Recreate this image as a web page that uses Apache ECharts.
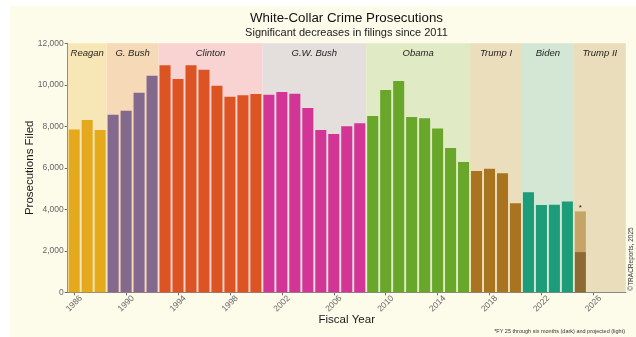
<!DOCTYPE html>
<html>
<head>
<meta charset="utf-8">
<script src="https://cdn.jsdelivr.net/npm/echarts@6/dist/echarts.min.js"></script>
<style>
  html, body { margin: 0; padding: 0; background: #ffffff; }
  #chart { width: 636px; height: 337px; }
</style>
</head>
<body>
<div id="chart"></div>
<script>
// Fiscal years on the category axis (2026-2028 are empty, inside the Trump II band)
const years = ['1986','1987','1988','1989','1990','1991','1992','1993','1994','1995',
  '1996','1997','1998','1999','2000','2001','2002','2003','2004','2005',
  '2006','2007','2008','2009','2010','2011','2012','2013','2014','2015',
  '2016','2017','2018','2019','2020','2021','2022','2023','2024','2025',
  '2026','2027','2028'];

// White-collar prosecutions filed, FY 1986-2024
const filed = [7850, 8300, 7820, 8560, 8750, 9620, 10440, 10940, 10280, 10940,
  10720, 9960, 9430, 9500, 9560, 9520, 9650, 9570, 8880, 7820,
  7630, 8000, 8150, 8500, 9750, 10180, 8450, 8390, 7890, 6950,
  6280, 5850, 5960, 5740, 4290, 4820, 4210, 4220, 4370];

// FY 2025: six months actual, and the full-year projection
const fy25Actual = 1940;
const fy25Projected = 3900;

// Administrations and the fiscal years they cover
const adminNames = ['Reagan', 'G. Bush', 'Clinton', 'G.W. Bush', 'Obama', 'Trump I', 'Biden', 'Trump II'];
const adminStart = [1986, 1989, 1993, 2001, 2009, 2017, 2021, 2025];
const adminEnd   = [1988, 1992, 2000, 2008, 2016, 2020, 2024, 2028];

// Tick labels on the value axis
const yTicks = [0, 2000, 4000, 6000, 8000, 10000, 12000];

// Styling per administration
const barColors   = ['#E4A91C', '#84698F', '#DC5424', '#D23595', '#68A72A', '#A9741F', '#1C9C78', '#8C6A33'];
const shadeColors = ['#F7E7B6', '#F6D9B6', '#F8D3D2', '#E4DFDC', '#E0EBC5', '#EBDEBC', '#D3E7D4', '#EADDBB'];
const fy25LightColor = '#C6A468';

function adminIndex(year) {
  for (let i = 0; i < adminStart.length; i++) {
    if (year >= adminStart[i] && year <= adminEnd[i]) return i;
  }
  return 0;
}

const mainData = years.map((y, i) => {
  const yr = Number(y);
  let v = null;
  if (i < filed.length) v = filed[i];
  else if (yr === 2025) v = fy25Actual;
  if (v === null) return null;
  return { value: v, itemStyle: { color: barColors[adminIndex(yr)] } };
});

const projectedData = years.map(y => (Number(y) === 2025 ? fy25Projected - fy25Actual : null));

const areas = adminNames.map((name, i) => [
  { name: name, xAxis: adminStart[i] - 0.5, itemStyle: { color: shadeColors[i] } },
  { xAxis: adminEnd[i] + 0.5 }
]);

const chart = echarts.init(document.getElementById('chart'), null, { renderer: 'canvas' });
const FONT = 'Liberation Sans, Arial, sans-serif';

chart.setOption({
  animation: false,
  backgroundColor: '#FDFBEA',
  textStyle: { fontFamily: FONT },
  grid: {
    left: 67.7, right: 10.2, top: 43.3, bottom: 44.7,
    containLabel: false, outerBoundsMode: 'none'
  },
  xAxis: [
    {
      type: 'category',
      data: years,
      boundaryGap: true,
      name: 'Fiscal Year',
      nameLocation: 'middle',
      nameGap: 22,
      nameMoveOverlap: false,
      nameTextStyle: { fontSize: 11.5, color: '#1a1a1a', fontFamily: FONT },
      axisLine: { show: true, lineStyle: { color: '#6b6b6b', width: 1 } },
      axisTick: { show: true, alignWithLabel: true, interval: 3, length: 3, lineStyle: { color: '#6b6b6b' } },
      axisLabel: {
        interval: 3, rotate: 45, fontSize: 8.5, color: '#666666', margin: 5,
        verticalAlign: 'top', padding: [0, -5, 0, 0], fontFamily: FONT
      },
      splitLine: { show: false }
    },
    {
      type: 'value',
      min: 1985.5,
      max: 2028.5,
      show: false,
      position: 'top'
    }
  ],
  yAxis: {
    type: 'value',
    min: 0,
    max: 12000,
    interval: 2000,
    name: 'Prosecutions Filed',
    nameLocation: 'middle',
    nameGap: 32,
    nameMoveOverlap: false,
    nameTextStyle: { fontSize: 11.5, color: '#1a1a1a', fontFamily: FONT },
    axisLine: { show: true, lineStyle: { color: '#6b6b6b', width: 1 } },
    axisTick: { show: true, length: 3, lineStyle: { color: '#6b6b6b' } },
    axisLabel: {
      fontSize: 8.5, color: '#666666', margin: 4, fontFamily: FONT,
      formatter: v => (yTicks.indexOf(v) >= 0 ? v.toLocaleString('en-US') : '')
    },
    splitLine: { show: false }
  },
  series: [
    {
      // administration bands behind the bars
      type: 'line',
      xAxisIndex: 1,
      data: [],
      z: 0,
      silent: true,
      markArea: {
        silent: true,
        label: {
          show: true,
          position: 'insideTop',
          distance: 5,
          fontStyle: 'italic',
          fontSize: 9.5,
          color: '#1f1f1f',
          fontFamily: FONT
        },
        data: areas
      }
    },
    {
      type: 'bar',
      stack: 'fy',
      data: mainData,
      barCategoryGap: '15%',
      z: 3
    },
    {
      type: 'bar',
      stack: 'fy',
      data: projectedData,
      itemStyle: { color: fy25LightColor },
      label: {
        show: true,
        position: 'top',
        distance: 0,
        formatter: '*',
        fontSize: 8,
        color: '#222222'
      },
      z: 3
    }
  ],
  graphic: [
    { type: 'rect', left: 0, top: 0, shape: { width: 636, height: 6 }, style: { fill: '#ffffff' }, silent: true, z: 10 },
    { type: 'rect', left: 0, top: 0, shape: { width: 10, height: 337 }, style: { fill: '#ffffff' }, silent: true, z: 10 },
    {
      type: 'text', x: 346.5, y: 18.5,
      style: { text: 'White-Collar Crime Prosecutions', fontSize: 13.3, fill: '#111111', fontFamily: FONT, align: 'center', verticalAlign: 'middle' }
    },
    {
      type: 'text', x: 346.5, y: 33,
      style: { text: 'Significant decreases in filings since 2011', fontSize: 11, fill: '#1a1a1a', fontFamily: FONT, align: 'center', verticalAlign: 'middle' }
    },
    {
      type: 'text', x: 625, y: 331,
      style: { text: '*FY 25 through six months (dark) and projected (light)', fontSize: 5.5, fill: '#333333', fontFamily: FONT, align: 'right', verticalAlign: 'middle' }
    },
    {
      type: 'text', x: 631.5, y: 259, rotation: Math.PI / 2,
      style: { text: '\u00A9TRACReports, 2025', fontSize: 6.5, fill: '#333333', fontFamily: FONT, align: 'center', verticalAlign: 'middle' }
    }
  ]
});
</script>
</body>
</html>
